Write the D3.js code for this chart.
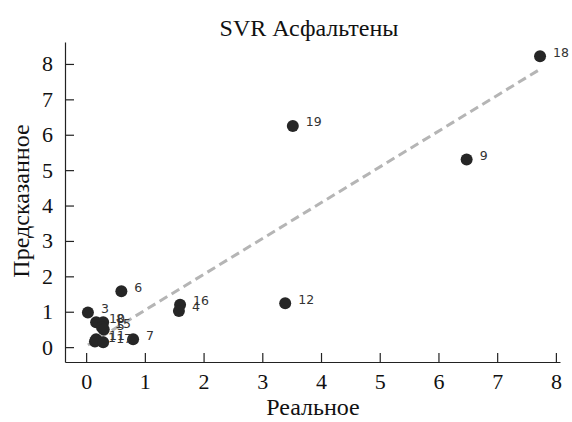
<!DOCTYPE html>
<html><head><meta charset="utf-8">
<script src="https://cdn.jsdelivr.net/npm/d3@7"></script>
<style>body{margin:0;background:#fff}</style>
</head><body>
<svg id="c" width="572" height="422"></svg>
<script>
const ids    = ["18","19","9","6","3","12","16","4","7","10","8","15","5","1","11","17"];
const actual = [7.73, 3.52, 6.48, 0.60, 0.03, 3.39, 1.60, 1.58, 0.80, 0.17, 0.29, 0.27, 0.30, 0.15, 0.17, 0.29];
const predicted = [8.22, 6.25, 5.30, 1.58, 0.98, 1.24, 1.20, 1.02, 0.22, 0.70, 0.70, 0.56, 0.50, 0.16, 0.22, 0.14];
const fitX = [0.03, 7.73];
const fitY = [0.06, 7.85];
const xTicks = [0,1,2,3,4,5,6,7,8];
const yTicks = [0,1,2,3,4,5,6,7,8];

const svg = d3.select("#c");
const x = d3.scaleLinear().domain([-0.36, 8.07]).range([65, 560]);
const y = d3.scaleLinear().domain([-0.42, 8.62]).range([362, 42]);
const serif = "'Liberation Serif','Times New Roman',serif";

const xa = svg.append("g").attr("transform","translate(0,362)")
  .call(d3.axisBottom(x).tickValues(xTicks).tickSizeInner(-9).tickSizeOuter(0));
const ya = svg.append("g").attr("transform","translate(65,0)")
  .call(d3.axisLeft(y).tickValues(yTicks).tickSizeInner(-9).tickSizeOuter(0));
[xa,ya].forEach(a=>{
  a.selectAll("path").attr("stroke","#222").attr("stroke-width",1.2);
  a.selectAll("line").attr("stroke","#222").attr("stroke-width",1.2);
  a.selectAll("text").attr("font-family",serif).attr("font-size",22).attr("fill","#111");
});
xa.selectAll("text").attr("dy","0.71em").attr("y",11);
ya.selectAll("text").attr("x",-12);

svg.append("path")
  .datum(fitX.map((v,i)=>[v,fitY[i]]))
  .attr("d", d3.line().x(d=>x(d[0])).y(d=>y(d[1])))
  .attr("fill","none").attr("stroke","#b5b5b5").attr("stroke-width",3)
  .attr("stroke-dasharray","9,5");

const pts = ids.map((id,i)=>({id, a:actual[i], p:predicted[i]}));
svg.append("g").selectAll("circle").data(pts).join("circle")
  .attr("cx",d=>x(d.a)).attr("cy",d=>y(d.p)).attr("r",6).attr("fill","#262626");
svg.append("g").selectAll("text").data(pts).join("text")
  .attr("x",d=>x(d.a)+13).attr("y",d=>y(d.p)-4).attr("dy","0.35em")
  .attr("font-family","'DejaVu Sans',sans-serif").attr("font-size",12.5).attr("fill","#333")
  .text(d=>d.id);

svg.append("text").attr("x",309).attr("y",36).attr("text-anchor","middle")
  .attr("font-family",serif).attr("font-size",24).attr("fill","#111").text("SVR Асфальтены");
svg.append("text").attr("x",313).attr("y",415).attr("text-anchor","middle")
  .attr("font-family",serif).attr("font-size",24).attr("fill","#111").text("Реальное");
svg.append("text").attr("transform","translate(29,201) rotate(-90)").attr("text-anchor","middle")
  .attr("font-family",serif).attr("font-size",24).attr("fill","#111").text("Предсказанное");
</script>
</body></html>
